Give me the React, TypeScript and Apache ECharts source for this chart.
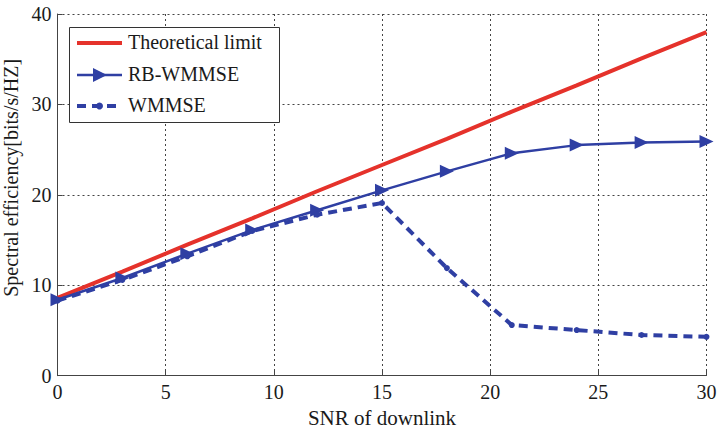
import React, { useEffect, useRef } from "react";
import * as echarts from "echarts";

const snr = [0, 3, 6, 9, 12, 15, 18, 21, 24, 27, 30];
const theoretical = [8.6, 11.5, 14.5, 17.4, 20.4, 23.3, 26.2, 29.2, 32.1, 35.1, 38.0];
const rbWmmse = [8.4, 10.8, 13.5, 16.1, 18.3, 20.5, 22.6, 24.6, 25.5, 25.8, 25.9];
const wmmse = [8.3, 10.6, 13.2, 16.0, 17.8, 19.1, 11.9, 5.6, 5.05, 4.5, 4.3];
const seriesNames = ["Theoretical limit", "RB-WMMSE", "WMMSE"];

const RED = "#e5322b";
const BLUE = "#2f3fa3";
const FONT = "Liberation Serif";
const TXT = "#1a1a1a";

export default function App() {
  const ref = useRef<HTMLDivElement>(null);
  useEffect(() => {
    if (!ref.current) return;
    const chart = echarts.init(ref.current, null, { renderer: "svg" });
    const pair = (ys: number[]) => snr.map((x, i) => [x, ys[i]]);
    const rowY = [43, 75, 106];
    const lx1 = 77, lx2 = 122, tx = 128;
    const legendText = (i: number) => ({
      type: "text",
      left: tx,
      top: rowY[i] - 11,
      style: { text: seriesNames[i], font: `20px '${FONT}'`, fill: TXT },
    });
    const lbl = { fontFamily: FONT, fontSize: 20, color: TXT, fontWeight: "normal" };
    chart.setOption({
      animation: false,
      backgroundColor: "#ffffff",
      textStyle: { fontFamily: FONT },
      grid: { left: 57.5, right: 11.5, top: 14, bottom: 51.3, outerBoundsMode: "none", containLabel: false },
      graphic: [
        {
          type: "rect",
          shape: { x: 69.5, y: 27.5, width: 210, height: 95 },
          style: { fill: "#fff", stroke: "#333", lineWidth: 1 },
          z: 10,
        },
        {
          type: "line",
          shape: { x1: lx1, y1: rowY[0], x2: lx2, y2: rowY[0] },
          style: { stroke: RED, lineWidth: 4 },
          z: 11,
        },
        {
          type: "line",
          shape: { x1: lx1, y1: rowY[1], x2: lx2, y2: rowY[1] },
          style: { stroke: BLUE, lineWidth: 2.5 },
          z: 11,
        },
        {
          type: "polygon",
          shape: { points: [[93, rowY[1] - 7], [107, rowY[1]], [93, rowY[1] + 7]] },
          style: { fill: BLUE },
          z: 11,
        },
        {
          type: "line",
          shape: { x1: lx1, y1: rowY[2], x2: lx2, y2: rowY[2] },
          style: { stroke: BLUE, lineWidth: 4, lineDash: [9, 6] },
          z: 11,
        },
        {
          type: "circle",
          shape: { cx: 99.5, cy: rowY[2], r: 3.5 },
          style: { fill: BLUE },
          z: 11,
        },
        { ...legendText(0), z: 11 },
        { ...legendText(1), z: 11 },
        { ...legendText(2), z: 11 },
      ],
      xAxis: {
        type: "value",
        min: 0,
        max: 30,
        interval: 5,
        name: "SNR of downlink",
        nameLocation: "middle",
        nameGap: 24,
        nameTextStyle: { ...lbl, fontSize: 21, lineHeight: 22 },
        axisLine: { onZero: false, lineStyle: { color: "#444", width: 1 } },
        axisTick: { inside: true, length: 5, lineStyle: { color: "#444" } },
        axisLabel: { ...lbl, margin: 6 },
        splitLine: { show: true, lineStyle: { color: "#444", type: [2, 3], width: 1 } },
      },
      yAxis: {
        type: "value",
        min: 0,
        max: 40,
        interval: 10,
        name: "Spectral efficiency[bits/s/HZ]",
        nameLocation: "middle",
        nameGap: 33,
        nameTextStyle: { ...lbl, padding: [0, 0, 0, 34] },
        axisLine: { show: true, lineStyle: { color: "#444", width: 1 } },
        axisTick: { show: true, inside: true, length: 5, lineStyle: { color: "#444" } },
        axisLabel: { ...lbl, margin: 6 },
        splitLine: { show: true, lineStyle: { color: "#444", type: [2, 3], width: 1 } },
      },
      series: [
        {
          name: seriesNames[0],
          type: "line",
          data: pair(theoretical),
          symbol: "none",
          lineStyle: { color: RED, width: 4 },
          itemStyle: { color: RED },
          z: 3,
        },
        {
          name: seriesNames[1],
          type: "line",
          data: pair(rbWmmse),
          symbol: "triangle",
          symbolSize: [13, 14],
          symbolRotate: -90,
          lineStyle: { color: BLUE, width: 2.5 },
          itemStyle: { color: BLUE },
          z: 4,
        },
        {
          name: seriesNames[2],
          type: "line",
          data: pair(wmmse),
          symbol: "circle",
          symbolSize: 6,
          lineStyle: { color: BLUE, width: 4, type: [9, 6] },
          itemStyle: { color: BLUE },
          z: 4,
        },
      ],
    });
    return () => chart.dispose();
  }, []);
  return <div ref={ref} style={{ width: 718, height: 427, position: "absolute", left: 0, top: 0 }} />;
}
